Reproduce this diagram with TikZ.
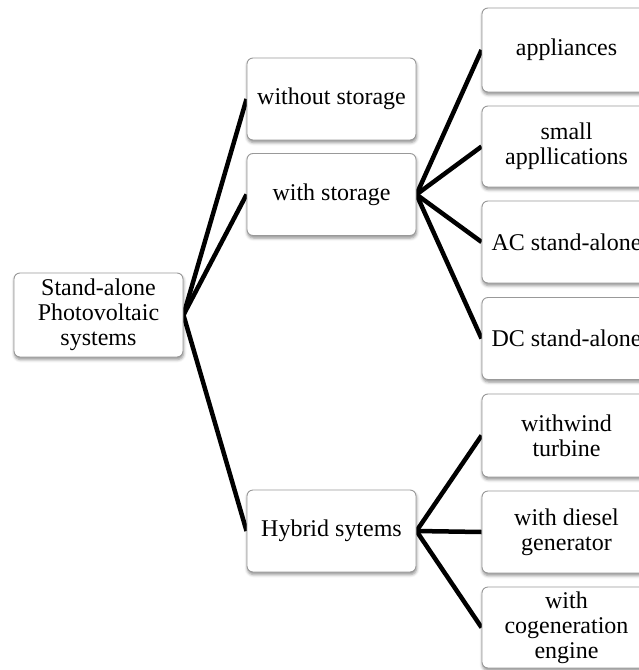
\documentclass[tikz,border=0pt]{standalone}
\usepackage{fontspec}
\setmainfont{Liberation Serif}
\usetikzlibrary{shadows.blur,backgrounds}
\begin{document}
\begin{tikzpicture}[x=1pt,y=-1pt,
  box/.style={draw=black!40, line width=0.9pt, fill=white, rounded corners=6pt,
    minimum width=169pt, minimum height=82pt, inner sep=2pt, align=center,
    font=\fontsize{24pt}{25pt}\selectfont,
    blur shadow={shadow xshift=0.5pt, shadow yshift=-2.5pt, shadow blur radius=3pt,
      shadow opacity=45}},
  link/.style={line width=4.5pt, black}]
\useasboundingbox (0,0) rectangle (639,670);

% root
\node[box, minimum height=84pt] (root) at (98.5,315) {Stand-alone\\Photovoltaic\\systems};

% second level
\node[box] (wo)  at (331.5,99)  {without storage};
\node[box] (ws)  at (331.5,194.5) {with storage};
\node[box] (hy)  at (331.5,531) {Hybrid sytems};

% third level, storage branch
\node[box, minimum height=84pt] (app) at (566.5,50)    {appliances};
\node[box, minimum height=81pt] (sma) at (566.5,146.5) {small\\appllications};
\node[box] (ac)  at (566.5,242)   {AC stand-alone};
\node[box] (dc)  at (566.5,338.5) {DC stand-alone};

% third level, hybrid branch
\node[box, minimum height=83pt] (wind) at (566.5,435.5) {withwind\\turbine};
\node[box] (dies) at (566.5,532)   {with diesel\\generator};
\node[box, minimum height=81pt] (cog)  at (566.5,627.5) {with\\cogeneration\\engine};

\begin{scope}[on background layer]
  \draw[link] (root.east) -- (wo.west);
  \draw[link] (root.east) -- (ws.west);
  \draw[link] (root.east) -- (hy.west);
  \draw[link] (ws.east) -- (app.west);
  \draw[link] (ws.east) -- (sma.west);
  \draw[link] (ws.east) -- (ac.west);
  \draw[link] (ws.east) -- (dc.west);
  \draw[link] (hy.east) -- (wind.west);
  \draw[link] (hy.east) -- (dies.west);
  \draw[link] (hy.east) -- (cog.west);
\end{scope}
\end{tikzpicture}
\end{document}
